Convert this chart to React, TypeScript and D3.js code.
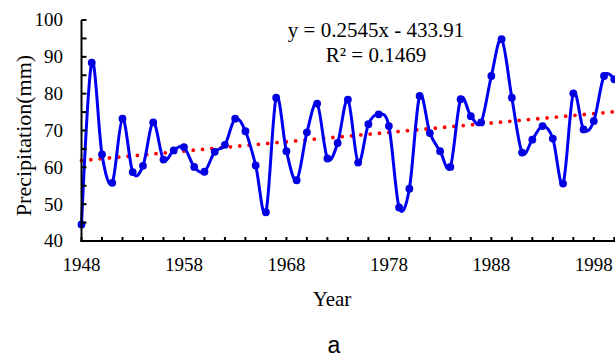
import React from 'react';
import * as d3 from 'd3';

const years = [
  1948, 1949, 1950, 1951, 1952, 1953, 1954, 1955, 1956, 1957,
  1958, 1959, 1960, 1961, 1962, 1963, 1964, 1965, 1966, 1967,
  1968, 1969, 1970, 1971, 1972, 1973, 1974, 1975, 1976, 1977,
  1978, 1979, 1980, 1981, 1982, 1983, 1984, 1985, 1986, 1987,
  1988, 1989, 1990, 1991, 1992, 1993, 1994, 1995, 1996, 1997,
  1998, 1999, 2000,
];
const precipitation = [
  44.5, 88.4, 63.5, 55.8, 73.2, 58.7, 60.4, 72.2, 62.1, 64.6,
  65.5, 60.1, 58.8, 64.2, 66.1, 73.2, 69.8, 60.5, 47.8, 78.9,
  64.4, 56.5, 69.5, 77.3, 62.4, 66.6, 78.4, 61.3, 71.7, 74.4,
  71.2, 49.1, 54.2, 79.4, 69.3, 64.4, 60.1, 78.5, 73.9, 72.2,
  84.8, 94.8, 78.9, 64.0, 67.5, 71.2, 67.8, 55.6, 80.1, 70.3,
  72.6, 84.8, 83.9,
];
const xTickLabels = [1948, 1958, 1968, 1978, 1988, 1998];
const yTickLabels = [40, 50, 60, 70, 80, 90, 100];
const trendSlope = 0.2545;
const trendIntercept = -433.91;

const W = 615;
const H = 361;
const serif = '"Liberation Serif", "Times New Roman", serif';

export default function App() {
  const x = d3.scaleLinear().domain([1948, 1998]).range([81.5, 593.8]);
  const y = d3.scaleLinear().domain([40, 100]).range([241, 20]);
  const xEnd = x.invert(W + 2);

  const data = years.map((yr, i) => ({ yr, v: precipitation[i] }));
  const line = d3
    .line<{ yr: number; v: number }>()
    .x((d) => x(d.yr))
    .y((d) => y(d.v))
    .curve(d3.curveCardinal.tension(0));

  const trend = d3
    .line<number>()
    .x((d) => x(d))
    .y((d) => y(trendSlope * d + trendIntercept));

  const yMinor = d3.range(40, 100.1, 5);
  const xMinor = d3.range(1948, xEnd, 2);

  return (
    <svg width={W} height={H} style={{ position: 'absolute', left: 0, top: 0, background: '#fff' }}>
      {/* trend */}
      <path
        d={trend([1948, xEnd]) || ''}
        fill="none"
        stroke="#ff0000"
        strokeWidth={3.8}
        strokeLinecap="round"
        strokeDasharray="0 9.35"
      />
      {/* series */}
      <path d={line(data) || ''} fill="none" stroke="#0000f0" strokeWidth={3} />
      {data.map((d) => (
        <circle key={d.yr} cx={x(d.yr)} cy={y(d.v)} r={3.9} fill="#0000e0" />
      ))}

      {/* axes */}
      <g stroke="#000" strokeWidth={2}>
        <line x1={x(1948)} x2={x(1948)} y1={y(100)} y2={y(40) + 1} />
        <line x1={x(1948) - 1} x2={W} y1={y(40)} y2={y(40)} />
        {yMinor.map((t) => (
          <line key={'y' + t} x1={x(1948)} x2={x(1948) + 5} y1={y(t)} y2={y(t)} />
        ))}
        {xMinor.map((t) => (
          <line key={'x' + t} x1={x(t)} x2={x(t)} y1={y(40)} y2={y(40) - 4} />
        ))}
      </g>
      <g fontFamily={serif} fontSize={19} fill="#000">
        {yTickLabels.map((t) => (
          <text key={t} x={63} y={y(t)} dy="0.34em" textAnchor="end">
            {t}
          </text>
        ))}
        {xTickLabels.map((t) => (
          <text key={t} x={x(t)} y={271} textAnchor="middle">
            {t}
          </text>
        ))}
      </g>
      <text x={332} y={306} fontFamily={serif} fontSize={21} textAnchor="middle">
        Year
      </text>
      <text
        transform={`translate(31,${(y(40) + y(100)) / 2 + 5}) rotate(-90)`}
        fontFamily={serif}
        fontSize={22}
        textAnchor="middle"
      >
        Precipitation(mm)
      </text>
      <g fontFamily={serif} fontSize={21} textAnchor="middle">
        <text x={376} y={37}>y = 0.2545x - 433.91</text>
        <text x={376} y={62}>R² = 0.1469</text>
      </g>
      <text x={334} y={353} fontFamily='"Liberation Sans", Arial, sans-serif' fontSize={23} textAnchor="middle">
        a
      </text>
    </svg>
  );
}
